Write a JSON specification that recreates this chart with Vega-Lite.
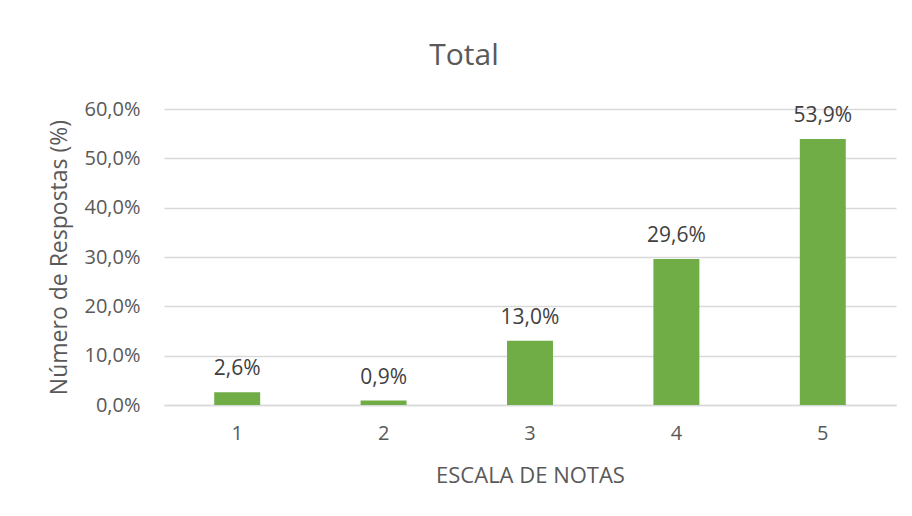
{
  "$schema": "https://vega.github.io/schema/vega-lite/v6.json",
  "autosize": {"type": "none"},
  "width": 732,
  "height": 296,
  "padding": {"left": 164, "top": 109, "right": 16, "bottom": 111},
  "background": "white",
  "config": {
    "locale": {"number": {"decimal": ",", "thousands": ".", "grouping": [3], "currency": ["", " €"]}},
    "font": "Open Sans",
    "view": {"stroke": null}
  },
  "title": {
    "text": "Total",
    "fontSize": 30,
    "font": "Open Sans",
    "fontWeight": "normal",
    "color": "#595959",
    "anchor": "middle",
    "dx": -66,
    "offset": 28
  },
  "data": {
    "values": [
      {"nota": "1", "pct": 0.026},
      {"nota": "2", "pct": 0.009},
      {"nota": "3", "pct": 0.13},
      {"nota": "4", "pct": 0.296},
      {"nota": "5", "pct": 0.539}
    ]
  },
  "encoding": {
    "x": {
      "field": "nota",
      "type": "nominal",
      "sort": null,
      "scale": {"paddingInner": 0.686, "paddingOuter": 0.343},
      "axis": {
        "title": "ESCALA DE NOTAS",
        "titleFontSize": 22,
        "titleFontWeight": "normal",
        "titleColor": "#595959",
        "titlePadding": 22,
        "labelAngle": 0,
        "labelFontSize": 20,
        "labelColor": "#595959",
        "labelPadding": 18,
        "ticks": false,
        "domainColor": "#d9d9d9",
        "domainWidth": 1.5,
        "grid": false
      }
    },
    "y": {
      "field": "pct",
      "type": "quantitative",
      "scale": {"domain": [0, 0.6], "nice": false},
      "axis": {
        "title": "Número de Respostas (%)",
        "titleFontSize": 23,
        "titleFontWeight": "normal",
        "titleColor": "#595959",
        "titlePadding": 12,
        "format": ".1%",
        "values": [0, 0.1, 0.2, 0.3, 0.4, 0.5, 0.6],
        "labelFontSize": 20,
        "labelColor": "#595959",
        "labelPadding": 24,
        "ticks": false,
        "domain": false,
        "gridColor": "#d9d9d9",
        "gridWidth": 1.5
      }
    }
  },
  "layer": [
    {"mark": {"type": "bar", "color": "#70ad47"}},
    {
      "mark": {"type": "text", "baseline": "alphabetic", "dy": -17, "fontSize": 21, "color": "#404040", "font": "Open Sans"},
      "encoding": {"text": {"field": "pct", "type": "quantitative", "format": ".1%"}}
    }
  ]
}
